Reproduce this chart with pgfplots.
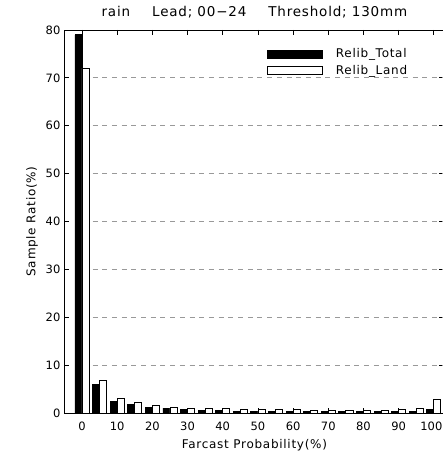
\documentclass[border=0pt]{standalone}
\usepackage{fontspec}
\setmainfont{DejaVu Sans}[LetterSpace=6]
\newfontfamily\tickfont{DejaVu Sans}
\usepackage{pgfplots}
\usepackage{pgfplotstable}
\pgfplotsset{compat=1.18}

\pgfplotstableread{
x    total  land
0    79.0   72.0
5    6.0    6.9
10   2.5    3.0
15   1.75   2.2
20   1.1    1.6
25   1.0    1.2
30   0.7    1.05
35   0.5    0.9
40   0.5    1.0
45   0.4    0.85
50   0.35   0.8
55   0.35   0.7
60   0.3    0.7
65   0.3    0.6
70   0.3    0.6
75   0.3    0.55
80   0.3    0.6
85   0.3    0.5
90   0.35   0.75
95   0.4    1.0
100  0.7    2.8
}\reltab

\begin{document}
\begin{tikzpicture}[font=\fontsize{12}{14}\selectfont]
\pgfplotsset{
  boxlegend/.style={legend image code/.code={
      \draw[##1,line width=0.8pt] (0pt,-4pt) rectangle (55pt,4pt);}},
}
\begin{axis}[
  name=ax,
  scale only axis,
  width=380pt, height=383pt,
  xmin=-5, xmax=103,
  ymin=0, ymax=80,
  xtick={0,10,...,100},
  xticklabels={0,10,20,30,40,50,60,70,80,90,\kern-5pt100},
  ytick={0,10,...,80},
  tick align=inside,
  major tick length=5pt,
  tick style={black, line width=0.8pt},
  axis line style={line width=0.8pt},
  /pgf/number format/assume math mode=true,
  tick label style={font=\tickfont\fontsize{11.5}{13}\selectfont},
  xticklabel style={yshift=-5pt},
  yticklabel style={xshift=-0.5pt},
  title={rain\hspace{22pt}Lead; 00−24\hspace{22pt}Threshold; 130mm},
  title style={at={(axis description cs:0.5,1.031)}, anchor=center,
    font=\fontsize{13.5}{15}\selectfont},
  xlabel={Farcast Probability(\%)},
  xlabel style={at={(axis description cs:0.5,-0.084)}, anchor=center},
  ylabel={Sample Ratio(\%)},
  ylabel style={at={(axis description cs:-0.085,0.5)}, anchor=center},
  legend cell align=left,
  legend style={draw=none, fill=none, at={(axis description cs:0.533,0.957)},
    anchor=north west, inner sep=0pt, row sep=2pt,
    /tikz/every odd column/.append style={column sep=11pt}},
]
\pgfplotsinvokeforeach{10,20,30,40,50,60,70}{
  \draw[black!40, line width=0.9pt, dash pattern=on 5pt off 4.7pt]
    (axis cs:3,#1) -- (axis cs:103,#1);
}
\addplot[ybar, bar width=2, bar shift=0pt, fill=black, draw=black,
  line width=0.8pt, boxlegend]
  table[x expr=\thisrow{x}-1, y=total] {\reltab};
\addlegendentry{Relib\_Total}
\addplot[ybar, bar width=2, bar shift=0pt, fill=white, draw=black,
  line width=0.8pt, boxlegend]
  table[x expr=\thisrow{x}+1, y=land] {\reltab};
\addlegendentry{Relib\_Land}
\end{axis}
\pgfresetboundingbox
\path (ax.south west) ++(-64.4pt,-39pt) rectangle ++(443pt,452pt);
\end{tikzpicture}
\end{document}
